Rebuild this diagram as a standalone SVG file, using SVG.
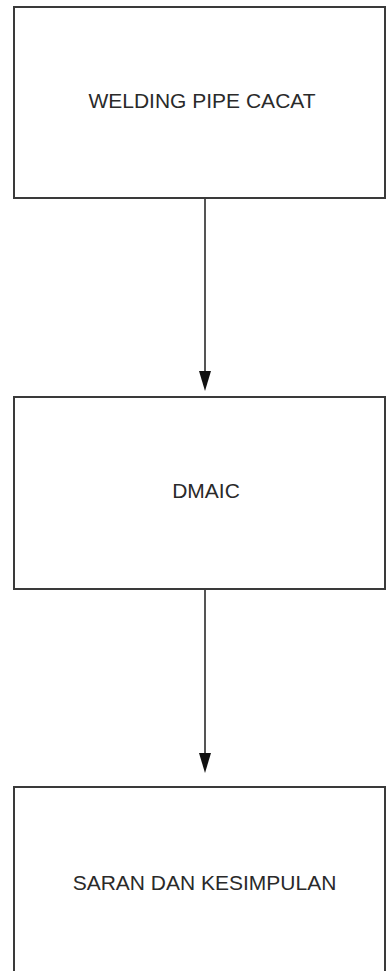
<svg xmlns="http://www.w3.org/2000/svg" width="387" height="971" viewBox="0 0 387 971">
  <defs>
    <style>
      .box { fill: #ffffff; stroke: #3a3a3a; stroke-width: 2; }
      .label { font-family: "Liberation Sans", Arial, sans-serif; font-size: 21px; fill: #2a2a2a; text-anchor: middle; }
      .link { stroke: #555555; stroke-width: 2; fill: none; }
      .head { fill: #111111; }
    </style>
  </defs>
  <rect x="0" y="0" width="387" height="971" fill="#ffffff"/>

  <g id="node-welding">
    <rect class="box" x="14" y="7" width="371" height="191"/>
    <text class="label" x="202" y="108">WELDING PIPE CACAT</text>
  </g>

  <g id="node-dmaic">
    <rect class="box" x="14" y="397" width="371" height="192"/>
    <text class="label" x="206" y="498">DMAIC</text>
  </g>

  <g id="node-saran">
    <rect class="box" x="14" y="787" width="371" height="195"/>
    <text class="label" x="204.5" y="890">SARAN DAN KESIMPULAN</text>
  </g>

  <g id="connectors">
    <line class="link" x1="205" y1="199" x2="205" y2="375"/>
    <polygon class="head" points="199,371 211,371 205,391"/>
    <line class="link" x1="205" y1="590" x2="205" y2="756"/>
    <polygon class="head" points="199,753 211,753 205,773"/>
  </g>
</svg>
